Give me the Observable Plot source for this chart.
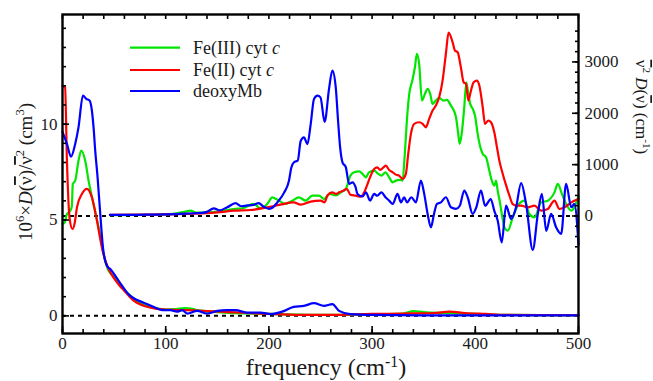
<!DOCTYPE html>
<html><head><meta charset="utf-8">
<script src="https://cdn.jsdelivr.net/npm/d3@7"></script>
<script src="https://cdn.jsdelivr.net/npm/@observablehq/plot@0.6"></script>
<style>body{margin:0;background:#fff} svg{display:block}</style>
</head><body><div id="chart"></div>
<script>
// ---- series names & colours ----
const seriesNames = ["Fe(III) cyt c", "Fe(II) cyt c", "deoxyMb"];
const seriesColors = ["#00e600", "#ff0000", "#0000ff"];

// ---- lower curves: 10^6 x D(v)/v^2 (cm^3), left axis  [frequency, value] ----
const fe3Lower = [[0,4.79],[2,4.85],[4.3,5.31],[7.5,5.48],[9,5.7],[10,6.88],[12.3,7.05],[15.5,8.09],[18.2,8.62],[22,8.09],[25.3,7.05],[30,5.83],[35,4.61],[39.8,3.22],[44.7,2.35],[51,2.0],[57.7,1.48],[65,1.1],[70,0.85],[80,0.55],[90,0.4],[100,0.33],[110,0.35],[118,0.4],[125,0.38],[130,0.3],[150,0.2],[200,0.1],[250,0.05],[300,0.08],[330,0.12],[340,0.25],[350,0.2],[370,0.15],[400,0.1],[430,0.05],[500,0.03]];
const fe2Lower = [[0,12.0],[2.5,11.9],[4.3,8.1],[6.8,5.13],[9.7,4.53],[12,4.9],[14,5.66],[18.8,6.36],[23.7,6.62],[28.5,6.18],[33.4,4.96],[38.2,3.57],[42,2.8],[46,2.3],[50,1.95],[55,1.6],[60,1.3],[65,1.0],[70,0.75],[75,0.6],[80,0.5],[90,0.38],[100,0.33],[110,0.3],[120,0.3],[130,0.28],[140,0.25],[160,0.2],[180,0.15],[200,0.1],[230,0.05],[260,0.05],[300,0.1],[330,0.12],[360,0.15],[375,0.22],[390,0.15],[410,0.1],[430,0.05],[500,0.03]];
const mbLower = [[0,9.6],[4.3,8.97],[8.2,8.3],[12.3,8.97],[15.5,9.83],[19.8,11.49],[23,11.32],[26.2,11.23],[28.5,10.7],[30.1,9.83],[31.7,8.62],[34,7.22],[36.6,5.31],[39.2,3.57],[43.1,2.61],[46.3,2.44],[51.2,2.09],[57.7,1.57],[64,1.13],[69,0.92],[78.6,0.69],[88,0.47],[96.5,0.3],[104.6,0.3],[111,0.22],[116,0.3],[120.8,0.12],[130.5,0.26],[140,0.12],[150,0.26],[159.6,0.3],[167.7,0.3],[179,0.17],[192,0.17],[201.6,0.09],[213,0.22],[224,0.47],[234,0.52],[243.7,0.66],[253.4,0.52],[261.5,0.61],[268,0.26],[279,0.09],[300,0.05],[350,0.03],[400,0.03],[500,0.03]];

// ---- upper curves: v^2 D(v) (cm^-1), right axis  [frequency, value] ----
const fe3Upper = [[46,15],[80,20],[100,30],[110,50],[118,80],[124,105],[130,65],[140,70],[150,85],[158,110],[166,136],[175,150],[185,234],[192,150],[198.4,234],[203.3,363],[208,320],[216,234],[222.7,298],[229,363],[235.6,298],[242,396],[248.5,396],[253.4,330],[259,429],[265,400],[269.6,460],[274.5,526],[279,786],[282.5,850],[287.4,869],[290.7,819],[294,752],[297,850],[302,883],[306,819],[309,786],[313,850],[316.5,752],[320,655],[323,688],[327,702],[329.5,688],[331.7,1209],[333.7,1858],[336,2378],[339,2637],[341.5,2897],[343.4,3158],[345.6,2963],[348.3,2247],[351.2,2378],[353.8,2476],[356.3,2378],[358.6,2183],[361.8,2247],[365,2300],[369.3,2247],[372.5,2261],[376.4,2150],[378,2100],[381.3,1922],[383.5,1598],[384.8,1403],[386.8,1598],[389.3,2117],[391.3,2604],[393.2,2378],[395.1,2183],[397.5,2086],[399.7,1955],[402.3,1598],[404.9,1337],[407.2,1209],[410.4,1142],[413.6,883],[416,688],[418.5,591],[420.1,688],[421.7,493],[424,250],[426,0],[428.3,-222],[431.5,-287],[436.3,-27],[441.2,200],[447.6,298],[452.4,39],[457.3,-27],[463.8,265],[470.2,298],[476.7,460],[480,624],[483.9,429],[488,234],[493,103],[500,380]];
const fe2Upper = [[46,20],[80,25],[100,30],[120,40],[133.7,51],[150,70],[166,103],[182,117],[198.4,168],[211,220],[224,265],[230.8,220],[240.5,279],[250,298],[254,265],[256.7,400],[261.5,460],[265,429],[268,460],[272,493],[275.5,526],[279,415],[284,396],[289,376],[291.6,429],[295,591],[298,752],[302,916],[305,947],[307.8,897],[311,947],[313.3,980],[316.5,897],[320,850],[323,805],[326.2,786],[329.5,721],[332.7,819],[335,1209],[337.6,1598],[340.8,1793],[345.6,1825],[349,1793],[352.1,1727],[355.3,1891],[358.6,2053],[361.8,2150],[365,2312],[368.3,2637],[371.5,3158],[374.1,3570],[378,3384],[380.3,3222],[382.9,3189],[386,2897],[388.7,2604],[391,2573],[393.2,2247],[395.8,2442],[398.4,2604],[401.6,2637],[403.9,2540],[407.2,2117],[409.4,1793],[412.6,1858],[415.2,1825],[418.5,1620],[421,1337],[423.3,1078],[426.6,819],[429.8,600],[433,400],[436.3,230],[440,200],[444.4,200],[450.9,168],[457.3,200],[463.8,103],[470.2,136],[476.7,298],[481.6,136],[486.5,168],[493,265],[500,331]];
const mbUpper = [[46,20],[60,20],[80,25],[100,30],[120,45],[135,60],[140,80],[146.6,150],[152,110],[159.6,170],[167.7,250],[173,190],[179,205],[185,215],[190,250],[195,180],[200,140],[204,170],[208,260],[214.6,450],[219.5,690],[221.7,940],[224.3,1045],[228,1080],[230.8,1460],[234,1530],[237.3,1400],[240.5,1790],[243.7,2280],[247,2345],[250,2310],[254,1830],[258.3,2480],[261.5,2830],[264.8,2500],[267,1860],[269,1340],[271.3,1045],[274.5,950],[277.7,625],[281,655],[284,560],[285.8,430],[290.7,380],[294,460],[298,300],[302,430],[305,395],[309,460],[313,365],[316.5,300],[320,235],[324.6,430],[328,265],[331,365],[334,265],[338,365],[342.4,265],[347.3,690],[350.5,430],[353.8,40],[357,-220],[360,40],[362.8,235],[366.7,265],[371.5,365],[376.4,170],[381.3,140],[385,200],[389.3,495],[392.6,365],[397.5,40],[401,170],[405.5,495],[409.5,200],[415,330],[418.4,100],[421.7,-90],[425.6,-515],[429.8,200],[434.7,-60],[439.5,170],[444.4,640],[449.2,235],[455.7,-660],[460.6,40],[464.5,430],[468.7,-290],[473.5,40],[478.3,-220],[483.2,-350],[488,625],[493,170],[496,235],[500,-560]];

// ---- axes ----
const xMajor = [0, 100, 200, 300, 400, 500];
const xMinor = d3.range(0, 501, 20);
const yMajor = [0, 5, 10];
const yMinor = d3.range(0, 16, 1);
const rMajor = [0, 1000, 2000, 3000];
const rMinor = d3.range(-600, 3601, 200);

// right-axis mapping onto left scale
const rightZero = 5.21;      // left value where right axis = 0
const rightPerLeft = 373.3;  // right units per left unit
const toLeft = r => rightZero + r / rightPerLeft;
const toRight = v => Math.round((v - rightZero) * rightPerLeft);

const rows = [];
const lowers = [fe3Lower, fe2Lower, mbLower];
const uppers = [fe3Upper, fe2Upper, mbUpper];
seriesNames.forEach((name, i) => {
  lowers[i].forEach(([f, v]) => rows.push({series: name, key: name + "-low", freq: f, y: v}));
  uppers[i].forEach(([f, r]) => rows.push({series: name, key: name + "-up", freq: f, y: toLeft(r)}));
});
// draw order: green, red, blue
const order = ["Fe(III) cyt c-low","Fe(III) cyt c-up","Fe(II) cyt c-up","Fe(II) cyt c-low","deoxyMb-up","deoxyMb-low"];
const byKey = d3.group(rows, d => d.key);

const W = 653, H = 381;
const ink = "#1a1a1a";
const FONT = "Liberation Serif";
const blank = () => "";

const plot = Plot.plot({
  width: W, height: H,
  marginTop: 14, marginBottom: 48, marginLeft: 62, marginRight: 75,
  style: {fontFamily: FONT, fontSize: "17px", color: ink, background: "#fff"},
  x: {domain: [0, 500]},
  y: {domain: [-0.92, 15.72]},
  color: {domain: seriesNames, range: seriesColors},
  marks: [
    Plot.ruleY([0, rightZero], {stroke: "#000", strokeWidth: 2, strokeDasharray: "4,4"}),
    ...order.map(k => Plot.line(byKey.get(k), {x: "freq", y: "y", stroke: "series", strokeWidth: 2.2, curve: "monotone-x"})),
    Plot.frame({stroke: "#000", strokeWidth: 2.4}),
    // bottom axis
    Plot.axisX({anchor: "bottom", ticks: xMajor, tickSize: -7, tickPadding: 10, label: null, fontSize: 17, stroke: "#000", strokeWidth: 1.6}),
    Plot.axisX({anchor: "bottom", ticks: xMinor, tickSize: -4, tickFormat: blank, label: null, stroke: "#000", strokeWidth: 1.6}),
    // top axis
    Plot.axisX({anchor: "top", ticks: xMinor, tickSize: -4, tickFormat: blank, label: null, stroke: "#000", strokeWidth: 1.6}),
    // left axis
    Plot.axisY({anchor: "left", ticks: yMajor, tickSize: -7, tickPadding: 12, label: null, fontSize: 17, stroke: "#000", strokeWidth: 1.6}),
    Plot.axisY({anchor: "left", ticks: yMinor, tickSize: -4, tickFormat: blank, label: null, stroke: "#000", strokeWidth: 1.6}),
    // right axis
    Plot.axisY({anchor: "right", ticks: rMajor.map(toLeft), tickFormat: d => String(toRight(d)), tickSize: -7, tickPadding: 13, label: null, fontSize: 17, stroke: "#000", strokeWidth: 1.6}),
    Plot.axisY({anchor: "right", ticks: rMinor.map(toLeft), tickSize: -4, tickFormat: blank, label: null, stroke: "#000", strokeWidth: 1.6})
  ]
});

document.getElementById("chart").appendChild(plot);

// ---- rich text labels and legend ----
const svg = d3.select(plot);
function richText(parent, segs, attrs, supShift = 0.4) {
  const t = parent.append("text");
  Object.entries(attrs).forEach(([k, v]) => t.attr(k, v));
  let shifted = 0;
  segs.forEach(s => {
    const sp = t.append("tspan").text(s.t);
    const want = s.sup ? -supShift * attrs["font-size"] : 0;
    if (want !== shifted) { sp.attr("dy", want - shifted); shifted = want; }
    if (s.sup) sp.attr("font-size", attrs["font-size"] * 0.66);
    if (s.it) sp.attr("font-style", "italic");
    if (s.ol) sp.attr("text-decoration", "overline");
  });
  return t;
}
const base = {fill: ink, "font-family": FONT};

// x label
richText(svg, [{t: "frequency (cm"}, {t: "-1", sup: true}, {t: ")"}],
  {...base, "font-size": 24, x: 326, y: 375, "text-anchor": "middle"}, 0.33);

// left y label
richText(svg, [{t: "10"}, {t: "6", sup: true}, {t: "×"}, {t: "D", it: true}, {t: "("}, {t: "ν", ol: true}, {t: ")/"}, {t: "ν", ol: true}, {t: "2", sup: true}, {t: " (cm"}, {t: "3", sup: true}, {t: ")"}],
  {...base, "font-size": 19, "text-anchor": "middle", transform: "translate(32,172) rotate(-90)"});

// right y label
richText(svg, [{t: "ν", ol: true}, {t: "2", sup: true}, {t: " "}, {t: "D", it: true}, {t: "("}, {t: "ν", ol: true}, {t: ") (cm"}, {t: "-1", sup: true}, {t: ")"}],
  {...base, "font-size": 17, "text-anchor": "middle", transform: "translate(636,107) rotate(90)"});

// legend
const legend = svg.append("g");
const legendY = [47.7, 70, 91];
seriesNames.forEach((name, i) => {
  legend.append("line").attr("x1", 130).attr("x2", 180).attr("y1", legendY[i]).attr("y2", legendY[i])
    .attr("stroke", seriesColors[i]).attr("stroke-width", 2.2);
  const segs = name.endsWith(" c") ? [{t: name.slice(0, -1)}, {t: "c", it: true}] : [{t: name}];
  richText(legend, segs, {...base, "font-size": 18, x: 193, y: legendY[i] + 6, "text-anchor": "start"});
});
</script>
</body></html>
